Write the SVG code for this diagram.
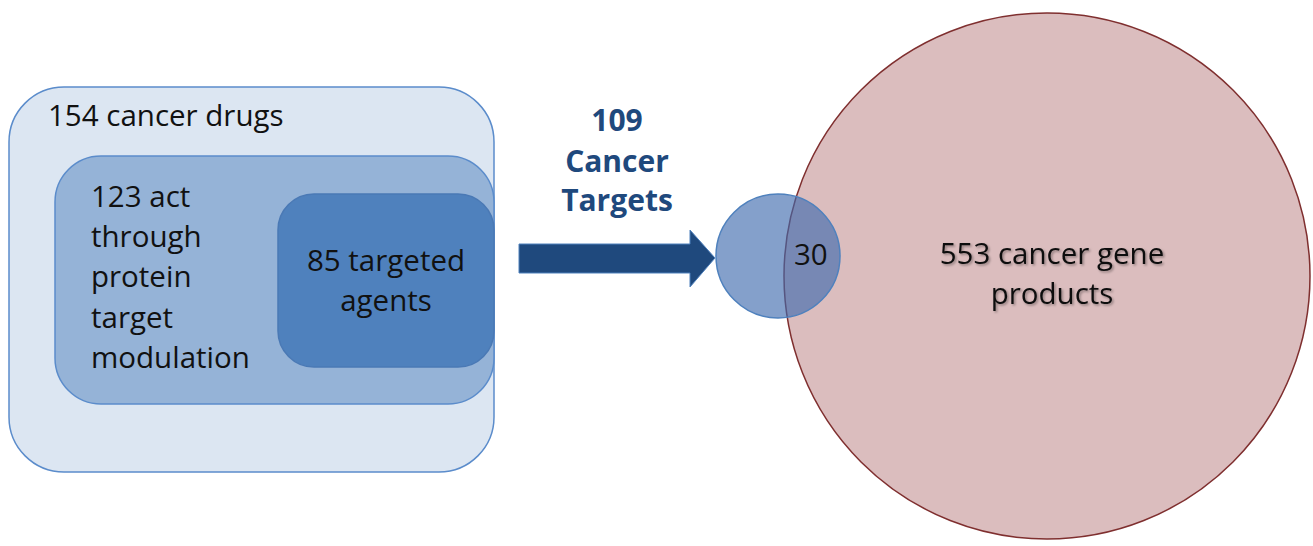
<svg xmlns="http://www.w3.org/2000/svg" width="1313" height="546" viewBox="0 0 1313 546">
<style>
text{font-family:"Open Sans","Liberation Sans",sans-serif;font-size:29.5px;fill:#111}
.lbl{font-weight:bold;fill:#1F497D;text-anchor:middle;font-size:30px}
.c{text-anchor:middle}
</style>
<defs>
<filter id="sh" x="-10%" y="-30%" width="120%" height="160%">
<feDropShadow dx="1.5" dy="1.5" stdDeviation="1.2" flood-color="#000" flood-opacity="0.35"/>
</filter>
</defs>
<rect width="1313" height="546" fill="#fff"/>
<g id="drugs154">
<rect x="9" y="87" width="485" height="385" rx="55" fill="#DCE6F2" stroke="#5B8CCB" stroke-width="1.5"/>
<text x="48" y="126">154 cancer drugs</text>
</g>
<g id="protein123">
<rect x="55" y="156" width="439" height="248" rx="46" fill="#95B3D7" stroke="#5B8CCB" stroke-width="1.5"/>
<text x="91" y="207">123 act</text>
<text x="91" y="247">through</text>
<text x="91" y="287">protein</text>
<text x="91" y="328">target</text>
<text x="91" y="368">modulation</text>
</g>
<g id="targeted85">
<rect x="278" y="194" width="216" height="173" rx="36" fill="#4F81BD" stroke="#4A79B5" stroke-width="1.5"/>
<text class="c" x="386" y="271">85 targeted</text>
<text class="c" x="386" y="311">agents</text>
</g>
<g id="connectors">
<path d="M519,244 H690 V230 L715,258 L690,287 V273 H519 Z" fill="#1F497D" stroke="#4F81BD" stroke-width="1"/>
<text class="lbl" x="617" y="131">109</text>
<text class="lbl" x="617" y="172">Cancer</text>
<text class="lbl" x="617" y="211">Targets</text>
</g>
<g id="geneProducts553">
<circle cx="1047" cy="276" r="263" fill="#DBBDBE" stroke="#7F2F2F" stroke-width="1.5"/>
<text class="c" x="1052" y="264" filter="url(#sh)">553 cancer gene</text>
<text class="c" x="1052" y="304" filter="url(#sh)">products</text>
</g>
<g id="targets109">
<circle cx="778" cy="256" r="62" fill="#3E6AAE" fill-opacity="0.64" stroke="#4F81BD" stroke-width="1.5"/>
<text x="794" y="265">30</text>
</g>
</svg>
